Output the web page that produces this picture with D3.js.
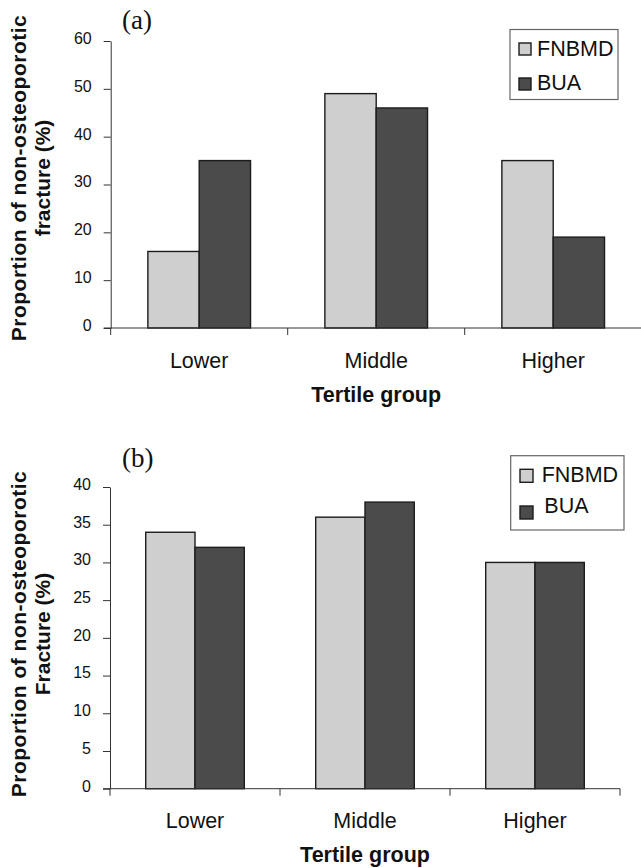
<!DOCTYPE html>
<html>
<head>
<meta charset="utf-8">
<script src="https://cdn.jsdelivr.net/npm/d3@7"></script>
<style>
  html, body { margin: 0; padding: 0; background: #fff; }
  svg { display: block; }
  text { font-family: "Liberation Sans", Arial, sans-serif; fill: #111; }
  text.serif { font-family: "Liberation Serif", "Times New Roman", serif; }
</style>
</head>
<body>
<script>
// ---------- data ----------
const categories = ["Lower", "Middle", "Higher"];
const seriesNames = ["FNBMD", "BUA"];
const panelA_FNBMD = [16, 49, 35];
const panelA_BUA = [35, 46, 19];
const panelB_FNBMD = [34, 36, 30];
const panelB_BUA = [32, 38, 30];
const panelA_ticks = [0, 10, 20, 30, 40, 50, 60];
const panelB_ticks = [0, 5, 10, 15, 20, 25, 30, 35, 40];
const xTitle = "Tertile group";
const yTitleLine1 = "Proportion of non-osteoporotic";
const panelA_yLine2 = "fracture (%)";
const panelB_yLine2 = "Fracture (%)";
const panelLabels = ["(a)", "(b)"];

const colors = { FNBMD: "#cfcfcf", BUA: "#4b4b4b" };

const W = 641, H = 868;
const svg = d3.select("body").append("svg").attr("width", W).attr("height", H);

function drawPanel(cfg) {
  const g = svg.append("g");
  const y = d3.scaleLinear().domain([0, cfg.max]).range([cfg.zeroY, cfg.topY]);
  const x0 = d3.scaleBand().domain(categories).range([cfg.left, cfg.right]).padding(0);
  const bw = x0.bandwidth();
  const x1 = d3.scaleBand().domain(seriesNames).range([bw * 0.21, bw * 0.79]).padding(0);
  const vals = { FNBMD: cfg.fn, BUA: cfg.bua };

  // bars
  categories.forEach((c, i) => {
    seriesNames.forEach(s => {
      const v = vals[s][i];
      g.append("rect")
        .attr("x", x0(c) + x1(s))
        .attr("y", y(v))
        .attr("width", x1.bandwidth())
        .attr("height", y(0) - y(v))
        .attr("fill", colors[s])
        .attr("stroke", "#1c1c1c")
        .attr("stroke-width", 1.4);
    });
  });

  // y axis
  const ya = g.append("g")
    .attr("transform", `translate(${cfg.left},0)`)
    .call(d3.axisLeft(y).tickValues(cfg.ticks).tickSize(7).tickPadding(12).tickSizeOuter(0));
  ya.select(".domain").attr("stroke", "#333");
  ya.selectAll(".tick line").attr("stroke", "#333");
  ya.selectAll(".tick text")
    .style("font-size", "16px").style("fill", "#111").attr("dy", "0.15em");

  // x axis line and boundary ticks
  g.append("line")
    .attr("x1", cfg.left - 7).attr("x2", cfg.right)
    .attr("y1", y(0)).attr("y2", y(0))
    .attr("stroke", "#333");
  const bounds = categories.map(c => x0(c)).concat([x0.range()[1]]);
  g.selectAll(".xtick").data(bounds).enter().append("line")
    .attr("x1", d => d).attr("x2", d => d)
    .attr("y1", y(0)).attr("y2", y(0) + 7)
    .attr("stroke", "#333");

  // category labels
  g.selectAll(".xlab").data(categories).enter().append("text")
    .attr("x", d => x0(d) + bw / 2)
    .attr("y", y(0) + 39.5)
    .attr("text-anchor", "middle")
    .style("font-size", "21.5px")
    .text(d => d);

  // x title
  g.append("text")
    .attr("x", x0(categories[1]) + bw / 2)
    .attr("y", y(0) + 73.5)
    .attr("text-anchor", "middle")
    .style("font-size", "21.5px").style("font-weight", "bold")
    .text(xTitle);

  // y title (two lines, rotated)
  const yt = g.append("text")
    .attr("transform", `translate(0,${cfg.yTitleCenter}) rotate(-90)`)
    .attr("text-anchor", "middle")
    .style("font-size", "21px").style("font-weight", "bold");
  yt.append("tspan").attr("x", 0).attr("y", 26).attr("letter-spacing", 0.5).text(yTitleLine1);
  yt.append("tspan").attr("x", 0).attr("y", 50).text(cfg.yLine2);

  // panel label
  g.append("text")
    .attr("class", "serif")
    .attr("x", 122).attr("y", cfg.labelY)
    .style("font-size", "27px")
    .text(cfg.label);

  // legend
  const L = cfg.legend;
  g.append("rect")
    .attr("x", L.x).attr("y", L.y).attr("width", L.w).attr("height", L.h)
    .attr("fill", "#fff").attr("stroke", "#666").attr("stroke-width", 1.2);
  seriesNames.forEach((s, i) => {
    g.append("rect")
      .attr("x", L.sx).attr("y", L.sy[i]).attr("width", L.ss).attr("height", L.ss)
      .attr("fill", colors[s]).attr("stroke", "#1c1c1c").attr("stroke-width", 1.4);
    g.append("text")
      .attr("x", L.tx[i]).attr("y", L.ty[i])
      .style("font-size", "21.5px")
      .text(s);
  });
}

drawPanel({
  fn: panelA_FNBMD, bua: panelA_BUA, ticks: panelA_ticks, max: 60,
  zeroY: 328, topY: 41, left: 110.7, right: 641.7,
  yTitleCenter: 178, yLine2: panelA_yLine2, label: panelLabels[0], labelY: 29,
  legend: { x: 510, y: 29.5, w: 108, h: 70, sx: 519, sy: [43, 78], ss: 12,
            tx: [537, 537], ty: [55.7, 90] }
});

drawPanel({
  fn: panelB_FNBMD, bua: panelB_BUA, ticks: panelB_ticks, max: 40,
  zeroY: 788.7, topY: 487, left: 110, right: 620,
  yTitleCenter: 634, yLine2: panelB_yLine2, label: panelLabels[1], labelY: 467,
  legend: { x: 510.7, y: 455.7, w: 113.3, h: 74.3, sx: 520, sy: [469.3, 506], ss: 13,
            tx: [541.7, 544.3], ty: [481.7, 513.3] }
});
</script>
</body>
</html>
